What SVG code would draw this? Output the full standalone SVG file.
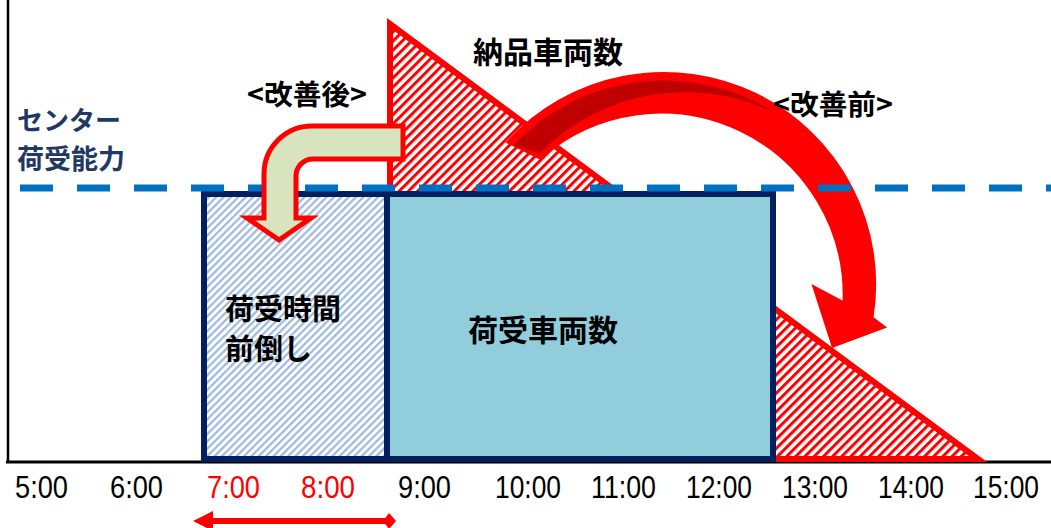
<svg xmlns="http://www.w3.org/2000/svg" width="1051" height="528" viewBox="0 0 1051 528">
<defs>
<pattern id="hatchRed" width="6.5" height="6.5" patternUnits="userSpaceOnUse" patternTransform="rotate(45)"><rect width="3" height="6.5" fill="#FF0000"/></pattern>
<pattern id="hatchBlue" width="5.2" height="5.2" patternUnits="userSpaceOnUse" patternTransform="rotate(45)"><rect width="2.2" height="5.2" fill="#9DB9DE"/></pattern>
<style>
.jp{font-family:"Noto Sans CJK JP","Noto Sans CJK SC",sans-serif;font-weight:700;}
.t{font-family:"Liberation Sans",Arial,sans-serif;font-size:32px;}
.navy{fill:#1F3864;}
.box{stroke:#002060;stroke-width:6;}
</style>
</defs>
<rect width="1051" height="528" fill="#FFFFFF"/>

<g id="axes" stroke="#000" fill="none">
<line x1="8" y1="0" x2="8" y2="463" stroke-width="2.5"/>
<line x1="6" y1="462" x2="1051" y2="462" stroke-width="3"/>
</g>

<g id="delivered">
<path d="M390 24 L390 459 L978 459 Z" fill="url(#hatchRed)" stroke="#FF0000" stroke-width="6" stroke-linejoin="miter"/>
</g>

<g id="advanced">
<rect x="204" y="194" width="183" height="265" fill="#FFFFFF"/>
<rect class="box" x="204" y="194" width="183" height="265" fill="url(#hatchBlue)"/>
</g>
<g id="received">
<rect class="box" x="387" y="194" width="386" height="265" fill="#92CDDC"/>
</g>

<g id="connectors">
<g id="before-arrow">
<path d="M508 142 A211 211 0 0 1 872 318 L884 327 L833 346 L814 287 L844 303 A183 183 0 0 0 540 158 Z" fill="#FF0000" stroke="#FF0000" stroke-width="3" stroke-linejoin="miter"/>
<path d="M513 146 A206 206 0 0 1 775 113 A204 204 0 0 0 540 153 Z" fill="#C00000"/>
</g>
<line id="capacity" x1="20" y1="188" x2="1051" y2="188" stroke="#0070C0" stroke-width="7" stroke-dasharray="33 24"/>
<path id="after-arrow" d="M403 126 L312 126 A48 48 0 0 0 264 174 L264 218 L247 218 L279 240 L311 218 L296 218 L296 176 A17 17 0 0 1 313 159 L403 159 Z" fill="#D7E4BD" stroke="#FF0000" stroke-width="5" stroke-linejoin="miter"/>
<g id="range" fill="#FF0000">
<line x1="205" y1="521" x2="386" y2="521" stroke="#FF0000" stroke-width="6"/>
<polygon points="193,521 213,511 213,531"/>
<polygon points="383,521 389,513 396,521 389,529"/>
</g>
</g>

<g id="labels">
<text class="jp" x="473" y="63" font-size="30">納品車両数</text>
<text class="jp" x="247" y="105" font-size="28" textLength="120" lengthAdjust="spacingAndGlyphs">&lt;改善後&gt;</text>
<text class="jp" x="773" y="115" font-size="28" textLength="120" lengthAdjust="spacingAndGlyphs">&lt;改善前&gt;</text>
<text class="jp navy" x="17" y="130" font-size="26">センター</text>
<text class="jp navy" x="17" y="169" font-size="27">荷受能力</text>
<text class="jp" x="468" y="341" font-size="30">荷受車両数</text>
<text class="jp" x="225" y="320" font-size="29">荷受時間</text>
<text class="jp" x="225" y="360" font-size="29">前倒し</text>
</g>

<g id="times" class="t">
<text x="15" y="498" textLength="53" lengthAdjust="spacingAndGlyphs">5:00</text>
<text x="110" y="498" textLength="53" lengthAdjust="spacingAndGlyphs">6:00</text>
<text x="207" y="498" textLength="53" lengthAdjust="spacingAndGlyphs" fill="#FF0000">7:00</text>
<text x="301" y="498" textLength="54" lengthAdjust="spacingAndGlyphs" fill="#FF0000">8:00</text>
<text x="398" y="498" textLength="53" lengthAdjust="spacingAndGlyphs">9:00</text>
<text x="495" y="498" textLength="66" lengthAdjust="spacingAndGlyphs">10:00</text>
<text x="591" y="498" textLength="65" lengthAdjust="spacingAndGlyphs">11:00</text>
<text x="686" y="498" textLength="66" lengthAdjust="spacingAndGlyphs">12:00</text>
<text x="782" y="498" textLength="66" lengthAdjust="spacingAndGlyphs">13:00</text>
<text x="878" y="498" textLength="66" lengthAdjust="spacingAndGlyphs">14:00</text>
<text x="973" y="498" textLength="66" lengthAdjust="spacingAndGlyphs">15:00</text>
</g>
</svg>
